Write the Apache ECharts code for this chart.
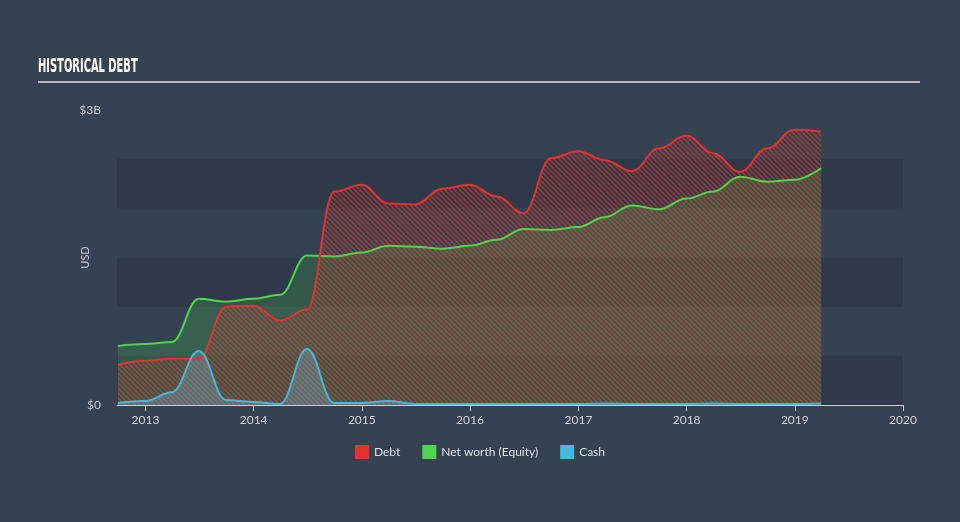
<!DOCTYPE html>
<html>
<head>
<meta charset="utf-8">
<script src="https://cdn.jsdelivr.net/npm/echarts@6/dist/echarts.min.js"></script>
<style>
html,body{margin:0;padding:0;background:#344252;}
#c{width:960px;height:522px;}
</style>
</head>
<body>
<div id="c"></div>
<script>
var dates = ['2012-09-30','2012-12-31','2013-03-31','2013-06-30','2013-09-30','2013-12-31',
  '2014-03-31','2014-06-30','2014-09-30','2014-12-31','2015-03-31','2015-06-30','2015-09-30','2015-12-31',
  '2016-03-31','2016-06-30','2016-09-30','2016-12-31','2017-03-31','2017-06-30','2017-09-30','2017-12-31',
  '2018-03-31','2018-06-30','2018-09-30','2018-12-31','2019-03-31'];
// values in billions USD
var debt = [0.41,0.45,0.47,0.47,1.00,1.01,0.86,0.97,2.17,2.24,2.05,2.04,2.20,2.24,2.12,1.95,2.51,2.58,2.49,2.38,2.61,2.74,2.56,2.37,2.61,2.80,2.78];
var netWorth = [0.60,0.62,0.64,1.08,1.05,1.08,1.12,1.52,1.51,1.55,1.62,1.61,1.59,1.62,1.68,1.79,1.78,1.81,1.91,2.03,1.99,2.10,2.17,2.32,2.27,2.29,2.41];
var cash = [0.02,0.04,0.13,0.55,0.05,0.03,0.01,0.57,0.02,0.02,0.04,0.01,0.01,0.01,0.01,0.01,0.01,0.01,0.015,0.01,0.01,0.01,0.015,0.01,0.01,0.01,0.015];
var yTicks = {0:'$0', 3:'$3B'};

function pairs(vals){ return dates.map(function(d,i){ return [d, vals[i]*1e9]; }); }

function hatch(color){
  var s = 5, cv = document.createElement('canvas');
  cv.width = s; cv.height = s;
  var g = cv.getContext('2d');
  g.strokeStyle = color; g.lineWidth = 1.6;
  g.beginPath();
  g.moveTo(0,0); g.lineTo(s,s);
  g.moveTo(-s,0); g.lineTo(s,2*s);
  g.moveTo(0,-s); g.lineTo(2*s,s);
  g.stroke();
  return cv;
}

var font = 'Lato, "Open Sans", sans-serif';
function areaSeries(name, vals, color, fill, z){
  return {name:name, type:'line', data:pairs(vals), smooth:0.4, smoothMonotone:'x', showSymbol:false, z:z,
    lineStyle:{width:0, opacity:0}, itemStyle:{color:color}, areaStyle:{color:fill, opacity:1}};
}
function lineSeries(name, vals, color, z){
  return {name:name, type:'line', data:pairs(vals), smooth:0.4, smoothMonotone:'x', showSymbol:false, z:z,
    lineStyle:{color:color, width:2}, itemStyle:{color:color}};
}

var chart = echarts.init(document.getElementById('c'));
chart.setOption({
  backgroundColor: '#344252',
  animation: false,
  grid: {left:117, right:57, top:110, bottom:117},
  graphic: [
    {type:'text', left:38, top:58, scaleX:0.58, style:{text:'HISTORICAL DEBT', fill:'#ffffff', font:'bold 19px "DejaVu Sans Condensed", "DejaVu Sans"'}},
    {type:'rect', shape:{x:38, y:81, width:882, height:2}, style:{fill:'#b4b9c0'}}
  ],
  legend: {
    bottom: 58, left: 'center', itemWidth: 14, itemHeight: 14, itemGap: 22,
    icon: 'rect',
    textStyle: {color:'#dde1e6', fontSize:12, fontFamily:font},
    data: ['Debt','Net worth (Equity)','Cash']
  },
  xAxis: {
    type: 'time',
    min: '2012-09-27', max: '2020-01-01',
    splitNumber: 7,
    axisLine: {lineStyle:{color:'#c9ced4', width:1}},
    axisTick: {show:true, length:6, lineStyle:{color:'#c9ced4'}},
    splitLine: {show:false},
    axisLabel: {color:'#d0d4da', fontSize:12, margin:9, fontFamily:font, showMaxLabel:true,
      formatter: function(v){ var d = new Date(v); return (d.getMonth()===0 && d.getDate()===1) ? String(d.getFullYear()) : ''; }}
  },
  yAxis: {
    type: 'value', min: 0, max: 3e9, interval: 0.5e9,
    name: 'USD', nameLocation: 'middle', nameRotate: 90, nameGap: 26, nameMoveOverlap: false,
    nameTextStyle: {color:'#c9ced4', fontSize:11, fontFamily:font},
    axisLine: {show:false}, axisTick: {show:false},
    splitLine: {show:false},
    splitArea: {show:true, areaStyle:{color:['#2e3a4a','rgba(0,0,0,0)']}},
    axisLabel: {color:'#c9ced4', fontSize:12, margin:16, fontFamily:font,
      formatter: function(v){ var k = Math.round(v/1e9*10)/10; return yTicks[k] || ''; }}
  },
  series: [
    areaSeries('Debt', debt, '#e8302c', {image: hatch('rgba(225,60,45,0.55)'), repeat:'repeat'}, 3),
    areaSeries('Net worth (Equity)', netWorth, '#4fd64a', 'rgba(80,215,80,0.2)', 2),
    areaSeries('Cash', cash, '#46b8dc', 'rgba(120,190,220,0.3)', 4),
    lineSeries('Net worth (Equity)', netWorth, '#4fd64a', 5),
    lineSeries('Debt', debt, '#e8302c', 6),
    lineSeries('Cash', cash, '#46b8dc', 7)
  ]
});
</script>
</body>
</html>
